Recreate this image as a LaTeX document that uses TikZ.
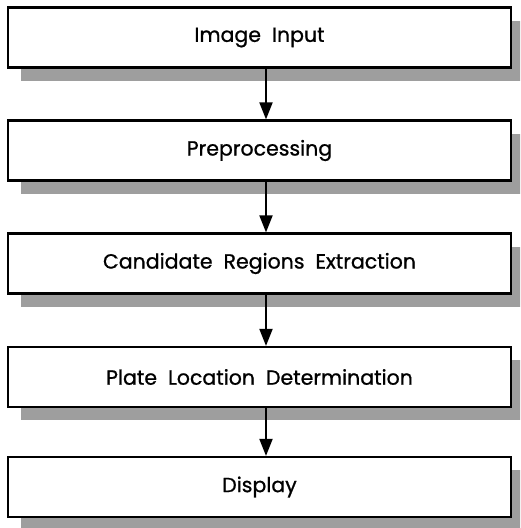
\documentclass[tikz,border=0pt]{standalone}
\usepackage{fontspec}
\setmainfont{Poppins}[FakeBold=0.9]
\usetikzlibrary{arrows.meta,shadows}
\tikzset{
  stepbox/.style={draw=black, line width=2.2pt, fill=white, minimum width=503pt, minimum height=60pt,
    inner sep=0pt, font=\fontsize{20.5}{24}\selectfont,
    general shadow={shadow xshift=13pt, shadow yshift=-13pt, fill=black!38}},
  flow/.style={line width=2pt, -{Triangle[width=13pt,length=17pt]}}
}
\begin{document}
\begin{tikzpicture}[x=1pt,y=-1pt]
\useasboundingbox[fill=white] (0,0) rectangle (520,528);
\begin{scope}
\clip (0,0) rectangle (520,528);
\node[stepbox] (b1) at (259.5,37.5) {Image\ \ Input};
\node[stepbox] (b2) at (259.5,150.5) {Preprocessing};
\node[stepbox] (b3) at (259.5,263.5) {Candidate\ \ Regions\ \ Extraction};
\node[stepbox] (b4) at (259.5,377) {Plate\ \ Location\ \ Determination};
\node[stepbox] (b5) at (259.5,487) {Display};
\end{scope}
\draw[flow] ([xshift=6.5pt]b1.south) -- ([xshift=6.5pt]b2.north);
\draw[flow] ([xshift=6.5pt]b2.south) -- ([xshift=6.5pt]b3.north);
\draw[flow] ([xshift=6.5pt]b3.south) -- ([xshift=6.5pt]b4.north);
\draw[flow] ([xshift=6.5pt]b4.south) -- ([xshift=6.5pt]b5.north);
\end{tikzpicture}
\end{document}
